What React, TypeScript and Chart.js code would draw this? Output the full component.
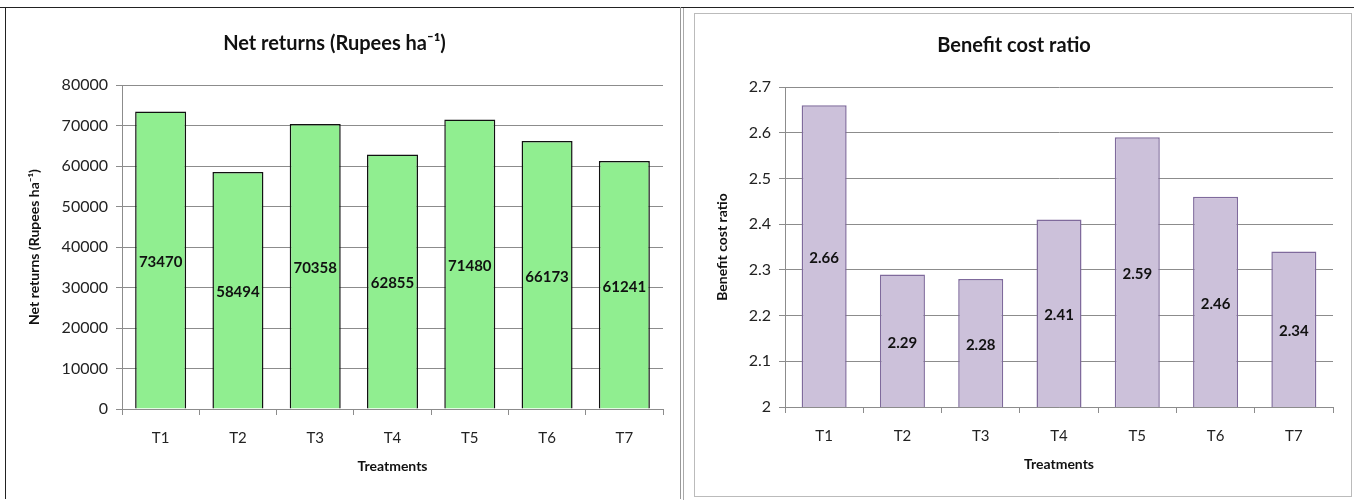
import React, { useEffect, useRef } from "react";
import { Chart, registerables } from "chart.js";

Chart.register(...registerables);

const treatments = ["T1", "T2", "T3", "T4", "T5", "T6", "T7"];
const netReturns = [73470, 58494, 70358, 62855, 71480, 66173, 61241];
const bcRatio = [2.66, 2.29, 2.28, 2.41, 2.59, 2.46, 2.34];
const netTicks = { min: 0, max: 80000, step: 10000 };
const bcTicks = { min: 2, max: 2.7, step: 0.1 };

const FONT = "Lato, 'Open Sans', sans-serif";

const centerLabels = (fmt: (v: number) => string) => ({
  id: "centerLabels",
  afterDatasetsDraw(chart: any) {
    const ctx = chart.ctx;
    const meta = chart.getDatasetMeta(0);
    const data = chart.data.datasets[0].data as number[];
    const bottom = chart.chartArea.bottom;
    ctx.save();
    ctx.font = `bold 15px ${FONT}`;
    ctx.fillStyle = "#111";
    ctx.textAlign = "center";
    ctx.textBaseline = "middle";
    meta.data.forEach((bar: any, i: number) => {
      const p = bar.getProps(["x", "y", "base"], true);
      const base = Math.min(p.base, bottom);
      ctx.fillText(fmt(data[i]), p.x, (p.y + base) / 2 + 2);
    });
    ctx.restore();
  },
});

type Props = {
  left: number; top: number; width: number; height: number;
  title: string; yTitle: string;
  labels: string[]; values: number[];
  ticks: { min: number; max: number; step: number };
  fill: string; border: string; barPct: number;
  areaLeft: number; areaRight: number; areaTop: number; areaBottom: number;
  titleY: number; yTitleX: number; xTitleY: number; xLabelPad: number;
  fmt: (v: number) => string; tickFmt: (v: number) => string;
};

function BarChart(p: Props) {
  const ref = useRef<HTMLCanvasElement>(null);
  useEffect(() => {
    if (!ref.current) return;
    const titleLH = 24;
    const chart = new Chart(ref.current, {
      type: "bar",
      data: {
        labels: p.labels,
        datasets: [{
          data: p.values,
          backgroundColor: p.fill,
          borderColor: p.border,
          borderWidth: 1.5,
          barPercentage: p.barPct,
          categoryPercentage: 1,
        }],
      },
      options: {
        animation: false,
        responsive: false,
        layout: { padding: { left: 0, right: p.width - p.areaRight, top: 0, bottom: 0 } },
        plugins: {
          legend: { display: false },
          tooltip: { enabled: false },
          title: {
            display: true,
            text: p.title,
            color: "#111",
            font: { family: FONT, size: 20, weight: "bold", lineHeight: 1.2 },
            padding: { top: p.titleY - titleLH / 2, bottom: p.areaTop - (p.titleY + titleLH / 2) },
          },
        },
        scales: {
          x: {
            grid: { display: true, drawOnChartArea: false, tickLength: 6, color: "#8c8c8c", offset: true },
            border: { color: "#8c8c8c" },
            ticks: { color: "#222", font: { family: FONT, size: 15 }, padding: p.xLabelPad },
            title: {
              display: true,
              text: "Treatments",
              color: "#111",
              font: { family: FONT, size: 14, weight: "bold", lineHeight: 1.2 },
              padding: { top: 0, bottom: p.height - p.xTitleY - 8.4 },
            },
            afterFit: (s: any) => { s.height = p.height - p.areaBottom; },
          } as any,
          y: {
            min: p.ticks.min,
            max: p.ticks.max,
            grid: { color: "#8c8c8c", tickLength: 6 },
            border: { color: "#8c8c8c" },
            ticks: {
              stepSize: p.ticks.step,
              color: "#222",
              font: { family: FONT, size: 16 },
              padding: 8,
              callback: (v: any) => p.tickFmt(Number(v)),
            },
            title: {
              display: true,
              text: p.yTitle,
              color: "#111",
              font: { family: FONT, size: 14, weight: "bold", lineHeight: 1.2 },
              padding: { top: p.yTitleX - 8.4, bottom: 0 },
            },
            afterFit: (s: any) => { s.width = p.areaLeft; },
          } as any,
        },
      },
      plugins: [centerLabels(p.fmt)],
    });
    return () => chart.destroy();
  }, []);
  return (
    <canvas
      ref={ref}
      width={p.width}
      height={p.height}
      style={{ position: "absolute", left: p.left, top: p.top, width: p.width, height: p.height }}
    />
  );
}

export default function App() {
  return (
    <div style={{ position: "fixed", left: 0, top: 0, width: 1354, height: 500, background: "#fff", overflow: "hidden" }}>
      <div style={{ position: "absolute", left: 0, top: 7, width: 1354, height: 0, borderTop: "1.5px solid #222" }} />
      <div style={{ position: "absolute", left: 5, top: 7, width: 676, height: 492, borderLeft: "1.5px solid #222", borderRight: "1px solid #999", boxSizing: "border-box" }} />
      <div style={{ position: "absolute", left: 683, top: 8, width: 0, height: 492, borderLeft: "1px solid #aaa" }} />
      <div style={{ position: "absolute", left: 694, top: 13, width: 658, height: 484, border: "1px solid #bbb", boxSizing: "border-box" }} />
      <BarChart
        left={6} top={8} width={674} height={490}
        title="Net returns (Rupees ha⁻¹)" yTitle="Net returns (Rupees ha⁻¹)"
        labels={treatments} values={netReturns} ticks={netTicks}
        fill="#90EE90" border="#111" barPct={0.66}
        areaLeft={116} areaRight={657} areaTop={77} areaBottom={401}
        titleY={36} yTitleX={28} xTitleY={458} xLabelPad={14}
        fmt={(v) => String(v)} tickFmt={(v) => String(Math.round(v))}
      />
      <BarChart
        left={695} top={14} width={656} height={482}
        title="Benefit cost ratio" yTitle="Benefit cost ratio"
        labels={treatments} values={bcRatio} ticks={bcTicks}
        fill="#CCC1DA" border="#7F6A9C" barPct={0.575}
        areaLeft={90} areaRight={638} areaTop={73} areaBottom={393}
        titleY={32} yTitleX={27} xTitleY={450} xLabelPad={14}
        fmt={(v) => v.toFixed(2)} tickFmt={(v) => String(Number(v.toFixed(1)))}
      />
    </div>
  );
}
